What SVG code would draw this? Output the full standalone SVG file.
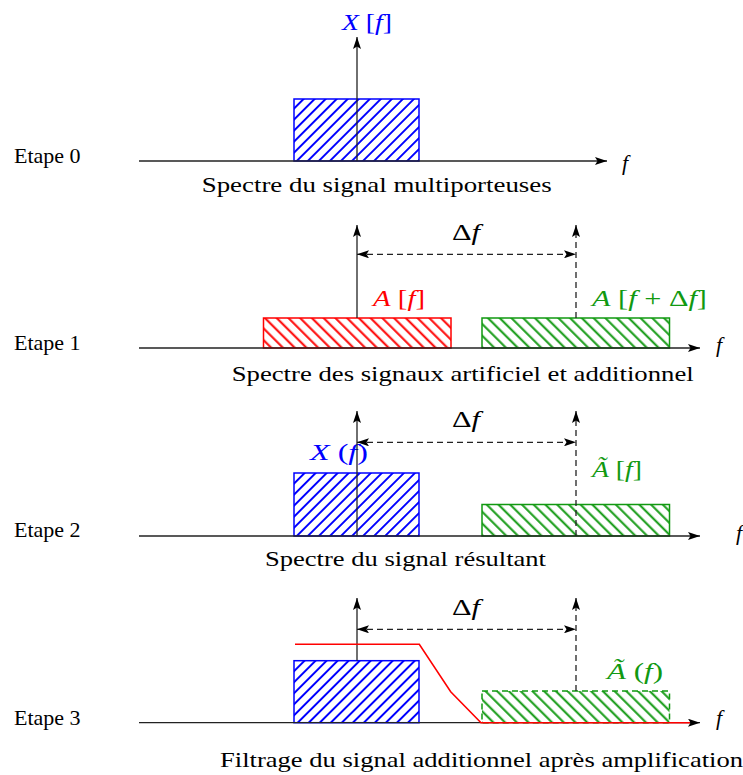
<svg xmlns="http://www.w3.org/2000/svg" width="743" height="775" viewBox="0 0 743 775">
<style>
text{font-family:"Liberation Serif","Times New Roman",serif;font-size:22px;fill:#000}
.m{font-style:italic}
.ml{font-size:24px}
.blue{fill:#0000ff}
.red{fill:#ff0000}
.green{fill:#119911}
.axis{stroke:#222;stroke-width:1.3;fill:none}
.dash{stroke:#222;stroke-width:1.3;stroke-dasharray:6,4;fill:none}
</style>
<defs>
<marker id="ah" markerUnits="userSpaceOnUse" viewBox="0 0 12 8" markerWidth="12" markerHeight="8" refX="12" refY="4" orient="auto-start-reverse">
<path d="M0,0 L12,4 L0,8 L2.5,4 z" fill="#000"/>
</marker>
<pattern id="hb" patternUnits="userSpaceOnUse" width="7.8" height="7.8" patternTransform="rotate(45)">
<line x1="3.9" y1="0" x2="3.9" y2="7.8" stroke="#0000ff" stroke-width="2"/>
</pattern>
<pattern id="hr" patternUnits="userSpaceOnUse" width="8.3" height="8.3" patternTransform="rotate(-45)">
<line x1="4" y1="0" x2="4" y2="8.3" stroke="#ff0000" stroke-width="2"/>
</pattern>
<pattern id="hg" patternUnits="userSpaceOnUse" width="8.3" height="8.3" patternTransform="rotate(-45)">
<line x1="4" y1="0" x2="4" y2="8.3" stroke="#119911" stroke-width="2"/>
</pattern>
</defs>

<g id="etape0">
<text x="14" y="163">Etape 0</text>
<rect x="294" y="99" width="125" height="62" fill="url(#hb)" stroke="#0000ff" stroke-width="1.5"/>
<text x="342" y="30" class="blue ml" textLength="50" lengthAdjust="spacingAndGlyphs"><tspan class="m">X</tspan> [<tspan class="m">f</tspan>]</text>
<text x="622" y="170" class="m">f</text>
<text x="201.7" y="191.7" textLength="350" lengthAdjust="spacingAndGlyphs">Spectre du signal multiporteuses</text>
</g>

<g id="etape1">
<text x="14" y="350">Etape 1</text>
<rect x="263.5" y="318" width="187.5" height="30" fill="url(#hr)" stroke="#ff0000" stroke-width="1.5"/>
<rect x="482" y="318" width="187.5" height="30" fill="url(#hg)" stroke="#119911" stroke-width="1.5"/>
<text x="373" y="306" class="red ml" textLength="52" lengthAdjust="spacingAndGlyphs"><tspan class="m">A</tspan> [<tspan class="m">f</tspan>]</text>
<text x="592" y="306" class="green ml" textLength="115" lengthAdjust="spacingAndGlyphs"><tspan class="m">A</tspan> [<tspan class="m">f</tspan> + Δ<tspan class="m">f</tspan>]</text>
<text x="452" y="240" class="ml" textLength="28" lengthAdjust="spacingAndGlyphs">Δ<tspan class="m">f</tspan></text>
<text x="716" y="352" class="m">f</text>
<text x="231.7" y="380.7" textLength="462" lengthAdjust="spacingAndGlyphs">Spectre des signaux artificiel et additionnel</text>
</g>

<g id="etape2">
<text x="14" y="537">Etape 2</text>
<rect x="294" y="473" width="125" height="63" fill="url(#hb)" stroke="#0000ff" stroke-width="1.5"/>
<rect x="482" y="504.5" width="187.5" height="31.5" fill="url(#hg)" stroke="#119911" stroke-width="1.5"/>
<text x="310" y="460" class="blue ml" textLength="58" lengthAdjust="spacingAndGlyphs"><tspan class="m">X</tspan> (<tspan class="m">f</tspan>)</text>
<text x="592" y="477" class="green ml" textLength="50" lengthAdjust="spacingAndGlyphs"><tspan class="m">Ã</tspan> [<tspan class="m">f</tspan>]</text>
<text x="452" y="427" class="ml" textLength="28" lengthAdjust="spacingAndGlyphs">Δ<tspan class="m">f</tspan></text>
<text x="736" y="540" class="m">f</text>
<text x="265" y="565.7" textLength="281" lengthAdjust="spacingAndGlyphs">Spectre du signal résultant</text>
</g>

<g id="etape3">
<text x="14" y="725">Etape 3</text>
<rect x="294" y="660.7" width="125" height="62" fill="url(#hb)" stroke="#0000ff" stroke-width="1.5"/>
<rect x="482" y="691" width="187.5" height="31.7" fill="url(#hg)" stroke="#119911" stroke-width="1.5" stroke-dasharray="6,4"/>
<text x="607" y="679" class="green ml" textLength="56" lengthAdjust="spacingAndGlyphs"><tspan class="m">Ã</tspan> (<tspan class="m">f</tspan>)</text>
<text x="452" y="615" class="ml" textLength="28" lengthAdjust="spacingAndGlyphs">Δ<tspan class="m">f</tspan></text>
<text x="716" y="725" class="m">f</text>
<text x="220" y="766.7" textLength="523" lengthAdjust="spacingAndGlyphs">Filtrage du signal additionnel après amplification</text>
</g>

<g id="connectors">
<line class="axis" x1="139" y1="161" x2="607" y2="161" marker-end="url(#ah)"/>
<line class="axis" x1="357" y1="161" x2="357" y2="37" marker-end="url(#ah)"/>

<line class="axis" x1="139" y1="348" x2="700" y2="348" marker-end="url(#ah)"/>
<line class="axis" x1="357" y1="318" x2="357" y2="225" marker-end="url(#ah)"/>
<line class="dash" x1="576" y1="318" x2="576" y2="225" marker-end="url(#ah)"/>
<line class="dash" x1="357" y1="254.3" x2="576" y2="254.3" marker-start="url(#ah)" marker-end="url(#ah)"/>

<line class="axis" x1="139" y1="536" x2="700" y2="536" marker-end="url(#ah)"/>
<line class="axis" x1="357" y1="536" x2="357" y2="411" marker-end="url(#ah)"/>
<line class="dash" x1="576" y1="536" x2="576" y2="411" marker-end="url(#ah)"/>
<line class="dash" x1="357" y1="442.3" x2="576" y2="442.3" marker-start="url(#ah)" marker-end="url(#ah)"/>

<line class="axis" x1="139" y1="722.7" x2="700" y2="722.7" marker-end="url(#ah)"/>
<line class="axis" x1="357" y1="660.7" x2="357" y2="598" marker-end="url(#ah)"/>
<line class="dash" x1="576" y1="691" x2="576" y2="598" marker-end="url(#ah)"/>
<line class="dash" x1="357" y1="629.3" x2="576" y2="629.3" marker-start="url(#ah)" marker-end="url(#ah)"/>
<polyline points="295,644.3 419.3,644.3 450.7,691.7 481,722.7 690,722.7" fill="none" stroke="#ff0000" stroke-width="1.6"/>
</g>
</svg>
